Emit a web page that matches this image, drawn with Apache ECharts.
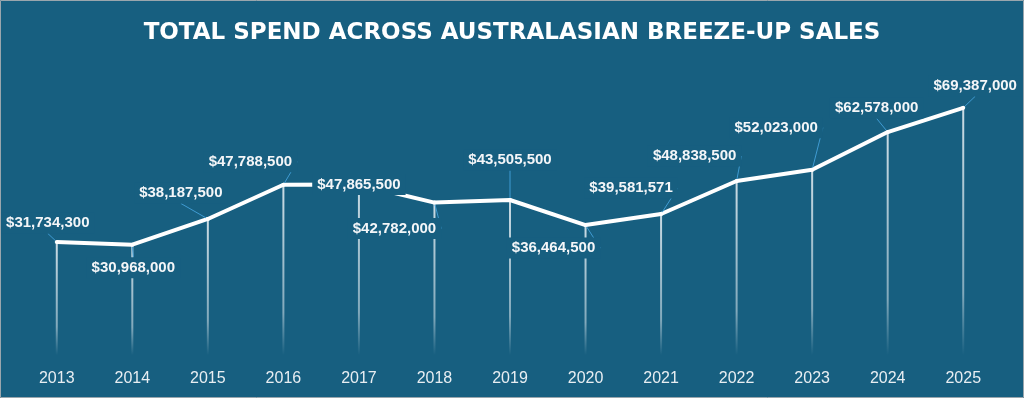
<!DOCTYPE html>
<html>
<head>
<meta charset="utf-8">
<script src="https://cdn.jsdelivr.net/npm/echarts@6/dist/echarts.min.js"></script>
<style>
html,body{margin:0;padding:0;background:#175f80;}
#chart{width:1024px;height:398px;}
</style>
</head>
<body>
<div id="chart"></div>
<script>
const years = ['2013','2014','2015','2016','2017','2018','2019','2020','2021','2022','2023','2024','2025'];
const totalSpend = [31734300, 30968000, 38187500, 47788500, 47865500, 42782000, 43505500, 36464500, 39581571, 48838500, 52023000, 62578000, 69387000];
const chartTitle = 'TOTAL SPEND ACROSS AUSTRALASIAN BREEZE-UP SALES';

// label offsets (style only): [dx, dy] from point to label centre
const labelOffsets = [[-9,-19],[1,23],[-27,-26],[-33,-23],[0,0],[-40,26],[0,-40],[-32,23],[-30,-26],[-42,-25],[-36,-42],[-11,-24],[12,-22]];

const BG = '#175f80';
const fmt = v => '$' + v.toLocaleString('en-US');

const chart = echarts.init(document.getElementById('chart'), null, {renderer:'canvas'});
chart.setOption({
  backgroundColor: BG,
  animation: false,
  title: {
    text: chartTitle,
    left: 'center',
    top: 17,
    textStyle: {color:'#ffffff', fontFamily:'DejaVu Sans', fontWeight:'bold', fontSize:23}
  },
  graphic: [{
    type:'rect', silent:true, z:100,
    shape:{x:0.5,y:0.5,width:1023,height:397},
    style:{fill:'none', stroke:'#9aa6ad', lineWidth:1}
  }],
  grid: {left:19, right:23, top:70, bottom:43},
  xAxis: {
    type:'category',
    data: years,
    boundaryGap: true,
    axisLine:{show:false},
    axisTick:{show:false},
    axisLabel:{color:'#e8eef2', fontSize:16, fontFamily:'Liberation Sans', margin:16}
  },
  yAxis: {
    type:'value', min:0, max:80000000,
    show:false,
    splitLine:{show:false}
  },
  series: [
    {
      type:'bar',
      data: totalSpend,
      barWidth: 2,
      z: 1,
      silent: true,
      itemStyle: {
        color: new echarts.graphic.LinearGradient(0,0,0,1,[
          {offset:0, color:'rgba(235,242,246,0.85)'},
          {offset:0.75, color:'rgba(235,242,246,0.5)'},
          {offset:1, color:'rgba(235,242,246,0)'}
        ])
      }
    },
    {
      type:'line',
      data: totalSpend,
      z: 3,
      symbol:'circle',
      symbolSize: 4,
      showSymbol: true,
      itemStyle:{color:'#ffffff'},
      lineStyle:{color:'#ffffff', width:4},
      label: {
        show:true,
        position:'inside',
        formatter: p => fmt(p.value),
        color:'#f4f6f8',
        fontFamily:'Liberation Sans',
        fontWeight:'bold',
        fontSize:15,
        backgroundColor: BG,
        padding:[3,5]
      },
      labelLine: {
        show:true,
        lineStyle:{color:'#3f9bd2', width:1}
      },
      labelLayout: function (params) {
        const o = labelOffsets[params.dataIndex];
        return {dx:o[0], dy:o[1]};
      }
    }
  ]
});
</script>
</body>
</html>
